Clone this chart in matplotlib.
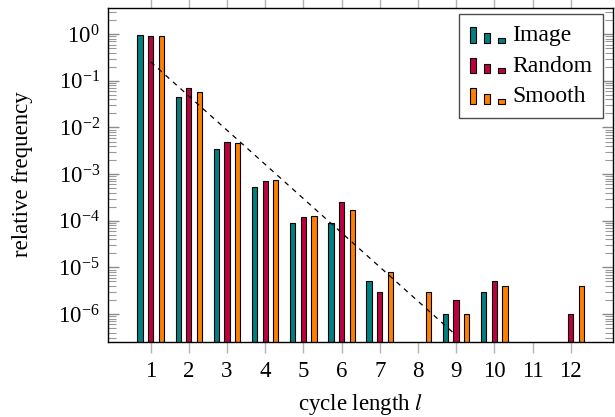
import numpy as np
import matplotlib
matplotlib.use("Agg")
import matplotlib.pyplot as plt
from matplotlib.patches import Rectangle
from matplotlib.legend_handler import HandlerBase

# data
cycle_length = [1, 2, 3, 4, 5, 6, 7, 8, 9, 10, 11, 12]
image = [0.95, 0.044, 0.0034, 5.2e-4, 8.8e-5, 8.8e-5, 5e-6, 0, 1e-6, 3e-6, 0, 0]
random = [0.93, 0.069, 0.0049, 7.0e-4, 1.19e-4, 2.5e-4, 3e-6, 0, 2e-6, 5e-6, 0, 1e-6]
smooth = [0.93, 0.058, 0.0046, 7.4e-4, 1.25e-4, 1.73e-4, 8e-6, 3e-6, 1e-6, 4e-6, 0, 4e-6]
fit_x = [1, 9]
fit_y = [0.255, 3.5e-7]

series = [("Image", image, "#008080"),
          ("Random", random, "#BF0040"),
          ("Smooth", smooth, "#FF8000")]

FS = 16.5
plt.rcParams["font.family"] = ["Liberation Serif", "DejaVu Serif"]
plt.rcParams["mathtext.fontset"] = "stix"


# pgfplots-style ybar legend image: three bars of falling height
class BarsHandler(HandlerBase):
    def create_artists(self, legend, orig, xd, yd, w, h, fs, trans):
        color = orig.get_facecolor()
        arts = []
        for x0, bw, hh in [(0.0, 0.18, 0.94), (0.39, 0.18, 0.58), (0.78, 0.21, 0.31)]:
            r = Rectangle((xd + x0 * w, yd - 0.1 * h), bw * w, hh * h,
                          facecolor=color, edgecolor="black", linewidth=0.8,
                          transform=trans)
            arts.append(r)
        return arts


fig = plt.figure(figsize=(6.15, 4.17), dpi=100)
ax = fig.add_axes([0.176, 0.181, 0.820, 0.801])

x = np.array(cycle_length, dtype=float)
offsets = [-0.278, 0.0, 0.278]
handles = []
for (name, vals, col), off in zip(series, offsets):
    v = np.array(vals, dtype=float)
    m = v > 0
    ax.bar(x[m] + off, v[m] - 1e-9, width=0.14, bottom=1e-9,
           color=col, edgecolor="black", linewidth=0.8, label=name)
    handles.append(Rectangle((0, 0), 1, 1, facecolor=col, edgecolor="black"))

ax.plot(fit_x, fit_y, color="black", linestyle=(0, (4, 4)), linewidth=0.9)

ax.set_yscale("log")
ax.set_ylim(2.58e-7, 3.73)
ax.set_xlim(-0.11, 13.095)
ax.set_xticks(cycle_length)
ax.set_yticks([1e0, 1e-1, 1e-2, 1e-3, 1e-4, 1e-5, 1e-6])

ax.tick_params(axis="x", which="both", direction="out", length=8, width=1,
               color="0.7", top=True, labeltop=False, labelsize=FS, pad=6)
ax.tick_params(axis="x", which="minor", length=0)
ax.tick_params(axis="y", which="major", direction="in", length=8, width=1,
               color="0.55", right=True, labelsize=FS, pad=6)
ax.tick_params(axis="y", which="minor", direction="in", length=5.5, width=0.8,
               color="0.6", right=True)
for s in ax.spines.values():
    s.set_linewidth(1.0)

ax.set_xlabel("cycle length $l$", fontsize=FS)
ax.xaxis.set_label_coords(0.5, -0.15)
ax.set_ylabel("relative frequency", fontsize=FS)
ax.yaxis.set_label_coords(-0.149, 0.5)

leg = ax.legend(handles, [s[0] for s in series], loc="upper right",
                bbox_to_anchor=(0.9806, 0.9805), borderaxespad=0,
                handler_map={Rectangle: BarsHandler()},
                fontsize=17, frameon=True, fancybox=False, framealpha=1,
                edgecolor="0.3", handlelength=1.5,
                handletextpad=0.28, labelspacing=0.38, borderpad=0.45)
leg.get_frame().set_linewidth(1.0)

fig.savefig("out.png", dpi=100)
